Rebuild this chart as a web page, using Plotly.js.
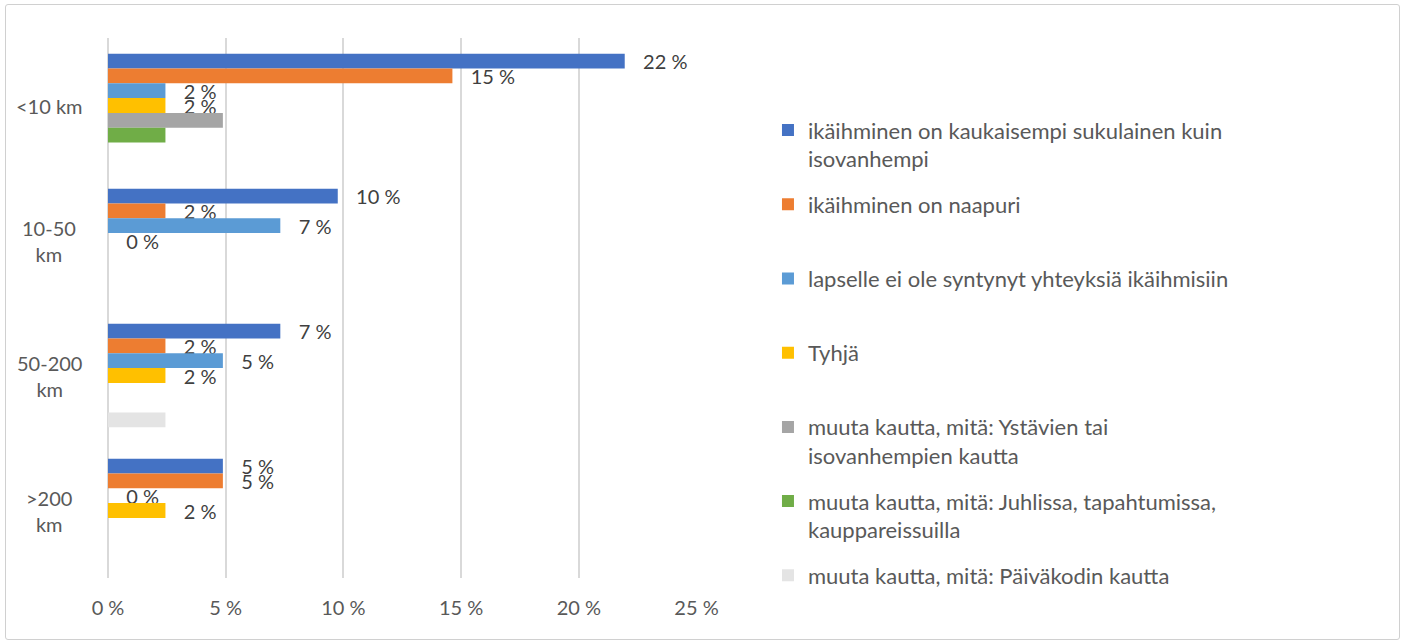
<!DOCTYPE html>
<html>
<head>
<meta charset="utf-8">
<script src="https://cdn.plot.ly/plotly-3.0.1.min.js"></script>
<style>
  html, body { margin: 0; padding: 0; background: #fff; }
  #wrap { position: relative; width: 1407px; height: 644px; }
  #chart { width: 1407px; height: 644px; }
  #frame { position: absolute; left: 5px; top: 4px; width: 1393px; height: 634px;
           border: 1px solid #d0d0d0; border-radius: 3px; pointer-events: none; }
</style>
</head>
<body>
<div id="wrap"><div id="chart"></div><div id="frame"></div></div>
<script>
// Categories (top to bottom)
const categories = ["<10 km", "10-50 km", "50-200 km", ">200 km"];
const categoryLabels = ["&lt;10 km", "10-50<br>km", "50-200<br>km", "&gt;200<br>km"];

// X-axis ticks
const tickValues = [0, 5, 10, 15, 20, 25];
const tickLabels = ["0 %", "5 %", "10 %", "15 %", "20 %", "25 %"];

// Series names
const seriesNames = [
  "ikäihminen on kaukaisempi sukulainen kuin<br>isovanhempi",
  "ikäihminen on naapuri",
  "lapselle ei ole syntynyt yhteyksiä ikäihmisiin",
  "Tyhjä",
  "muuta kautta, mitä: Ystävien tai<br>isovanhempien kautta",
  "muuta kautta, mitä: Juhlissa, tapahtumissa,<br>kauppareissuilla",
  "muuta kautta, mitä: Päiväkodin kautta"
];

// Values in percent
const kaukaisempiSukulainen = [21.95, 9.76, 7.32, 4.88];
const naapuri = [14.63, 2.44, 2.44, 4.88];
const eiYhteyksia = [2.44, 7.32, 4.88, 0];
const tyhja = [2.44, 0, 2.44, 2.44];
const ystavienKautta = [4.88, null, null, null];
const juhlissa = [2.44, null, null, null];
const paivakodinKautta = [null, null, 2.44, null];

const seriesValues = [kaukaisempiSukulainen, naapuri, eiYhteyksia, tyhja, ystavienKautta, juhlissa, paivakodinKautta];
const showsLabels = [true, true, true, true, false, false, false];
const colors = ["#4472C4", "#ED7D31", "#5B9BD5", "#FFC000", "#A5A5A5", "#70AD47", "#E4E4E4"];

const FONT = "Lato, 'Open Sans', sans-serif";

const traces = seriesValues.map((vals, i) => {
  let name = seriesNames[i];
  if (name.indexOf("<br>") < 0) name += "<br>\u00A0";
  return {
    type: "bar",
    orientation: "h",
    name: name,
    legendgroup: "g" + i,
    y: categories,
    x: vals,
    marker: { color: colors[i] },
    text: vals.map(v => (showsLabels[i] && v !== null) ? "\u00A0\u00A0\u00A0" + Math.round(v) + " %" : ""),
    textposition: "outside",
    constraintext: "none",
    cliponaxis: false,
    textfont: { family: FONT, size: 20, color: "#404040" },
    hoverinfo: "x+y+name"
  };
});

const annotations = categories.map((c, i) => ({
  xref: "paper", yref: "y",
  x: -0.1, y: c,
  text: categoryLabels[i],
  showarrow: false,
  xanchor: "center", yanchor: "middle",
  align: "center",
  font: { family: FONT, size: 20, color: "#595959" }
}));

const layout = {
  width: 1407, height: 644,
  margin: { l: 108, r: 710, t: 38, b: 66 },
  paper_bgcolor: "#ffffff",
  plot_bgcolor: "#ffffff",
  barmode: "group",
  bargap: 0.234,
  bargroupgap: 0,
  font: { family: FONT, color: "#595959" },
  xaxis: {
    range: [0, 25.02],
    tickmode: "array",
    tickvals: tickValues,
    ticktext: tickLabels,
    showgrid: true,
    gridcolor: "#d9d9d9",
    gridwidth: 2,
    zeroline: true,
    zerolinecolor: "#d9d9d9",
    zerolinewidth: 2,
    showline: false,
    ticks: "",
    ticklabelstandoff: 16,
    tickfont: { family: FONT, size: 20, color: "#595959" },
    fixedrange: true
  },
  yaxis: {
    type: "category",
    categoryorder: "array",
    categoryarray: categories,
    autorange: "reversed",
    showticklabels: false,
    showgrid: false,
    zeroline: false,
    ticks: "",
    fixedrange: true
  },
  showlegend: true,
  legend: {
    x: 1.1205, xanchor: "left",
    y: 0.868, yanchor: "top",
    valign: "top",
    tracegroupgap: 14,
    font: { family: FONT, size: 22, color: "#595959" },
    bgcolor: "rgba(0,0,0,0)"
  },
  annotations: annotations
};

Plotly.newPlot("chart", traces, layout, { displayModeBar: false, staticPlot: true });
</script>
</body>
</html>
